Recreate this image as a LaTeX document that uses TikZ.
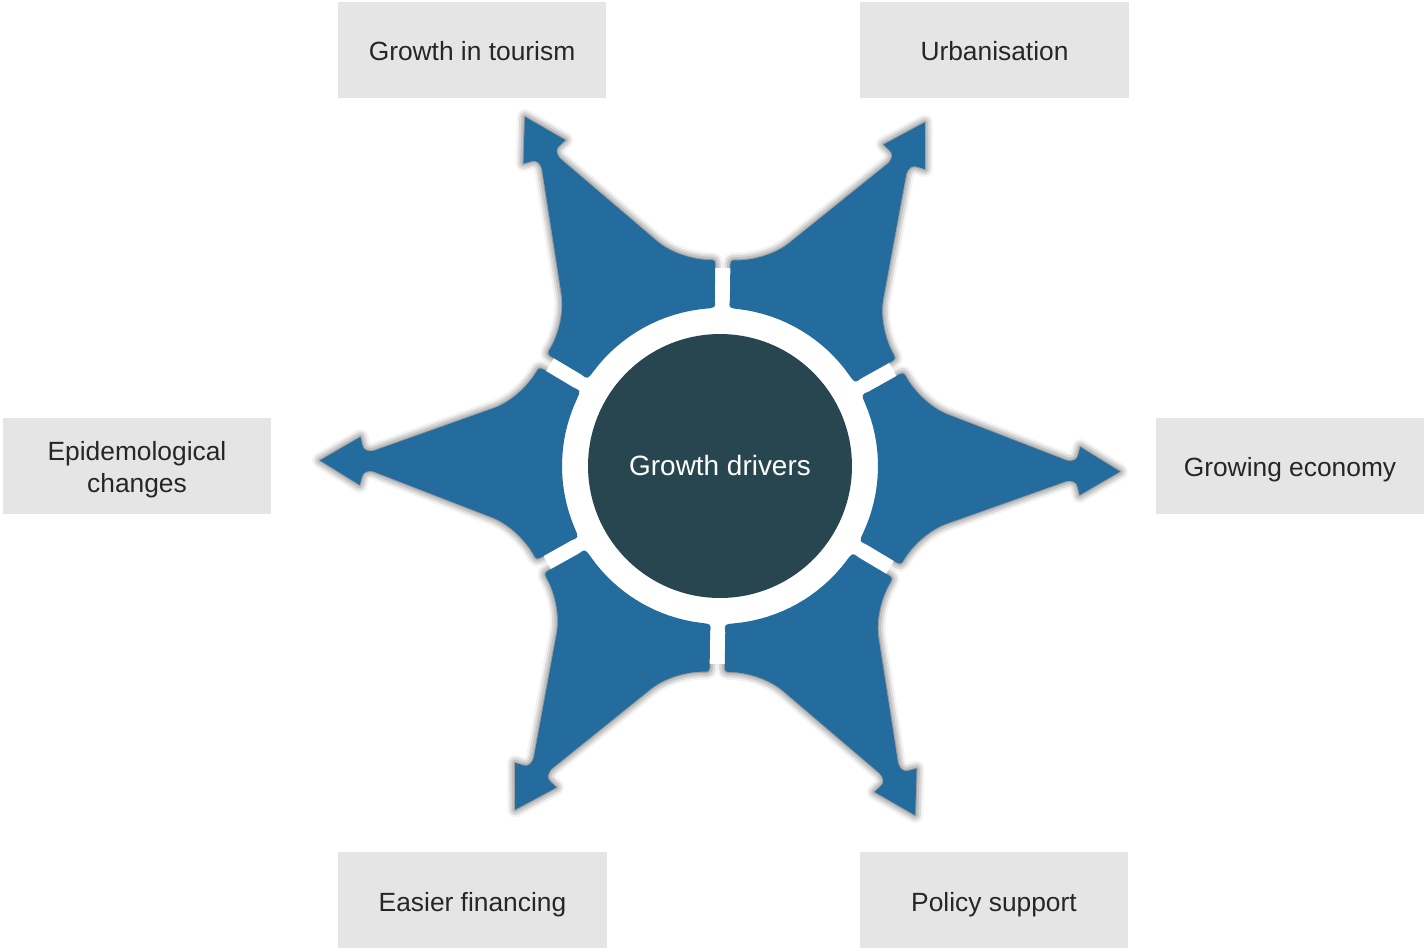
\documentclass[tikz,border=0pt]{standalone}
\usepackage{fontspec}
\setmainfont{Liberation Sans}
\usetikzlibrary{shadows.blur}
\definecolor{arrowblue}{RGB}{36,108,157}
\definecolor{hubcol}{RGB}{40,70,80}
\definecolor{boxgray}{RGB}{229,229,229}
\definecolor{txtcol}{RGB}{38,38,38}
\newcommand\arrowshape[1]{\path[#1] plot[domain=-24:24,samples=17] (\x:158)
  .. controls (140.3,73.4) .. (147.5,76.4) -- (174.3,91.9)
  .. controls (182.1,96.4) .. (185.6,90.3)
  .. controls (191,81) and (206,63) .. (226,55) -- (346,10.5)
  .. controls (353,9) and (357,11) .. (358,16) -- (360,24) -- (400,0)
  -- (360,-24) -- (358,-16)
  .. controls (357,-11) and (353,-9) .. (346,-10.5) -- (226,-55)
  .. controls (206,-63) and (191,-81) .. (185.6,-90.3)
  .. controls (182.1,-96.4) .. (174.3,-91.9) -- (147.5,-76.4)
  .. controls (140.3,-73.4) .. (-24:158) -- cycle;}
\newcommand\lowered[2]{\raisebox{-#1}[\height][\depth]{#2}}
\tikzset{
  lbl/.style={font=\fontsize{15}{18.2}\selectfont},
  box/.style={lbl, fill=boxgray, text=txtcol, minimum width=5.38cm, minimum height=1.92cm, inner sep=0pt, align=center},
  shadowsty/.style={blur shadow={shadow xshift=0pt, shadow yshift=0pt, shadow blur radius=4.5pt, shadow opacity=75}},
  arrowfill/.style={fill=arrowblue}
}
\begin{document}
\begin{tikzpicture}[x=0.02cm, y=-0.02cm]
\useasboundingbox (0,0) rectangle (1424,951);
\node[box] (tour) at (472,50) {\lowered{0.02cm}{Growth in tourism}};
\node[box] (urb) at (994.5,50) {\lowered{0.02cm}{Urbanisation}};
\node[box] (epi) at (137,466) {\lowered{0.08cm}{\begin{tabular}{@{}c@{}}Epidemological\\changes\end{tabular}}};
\node[box] (econ) at (1290,466) {\lowered{0.08cm}{Growing economy}};
\node[box] (fin) at (472.5,900) {\lowered{0.09cm}{Easier financing}};
\node[box] (pol) at (994,900) {\lowered{0.09cm}{Policy support}};
\foreach \a in {0,60,...,300} {
  \begin{scope}[shift={(720,466)}, rotate=-\a-0.8]
    \arrowshape{shadowsty}
  \end{scope}
}
\fill[white] (720,466) circle[radius=3.96cm];
\foreach \a in {0,60,...,300} {
  \begin{scope}[shift={(720,466)}, rotate=-\a-0.8]
    \arrowshape{arrowfill}
  \end{scope}
}
\node[circle, fill=hubcol, minimum size=5.28cm, inner sep=0pt, text=white, font=\fontsize{15.9}{19}\selectfont] (hub) at (720,466) {Growth drivers};
\end{tikzpicture}
\end{document}
